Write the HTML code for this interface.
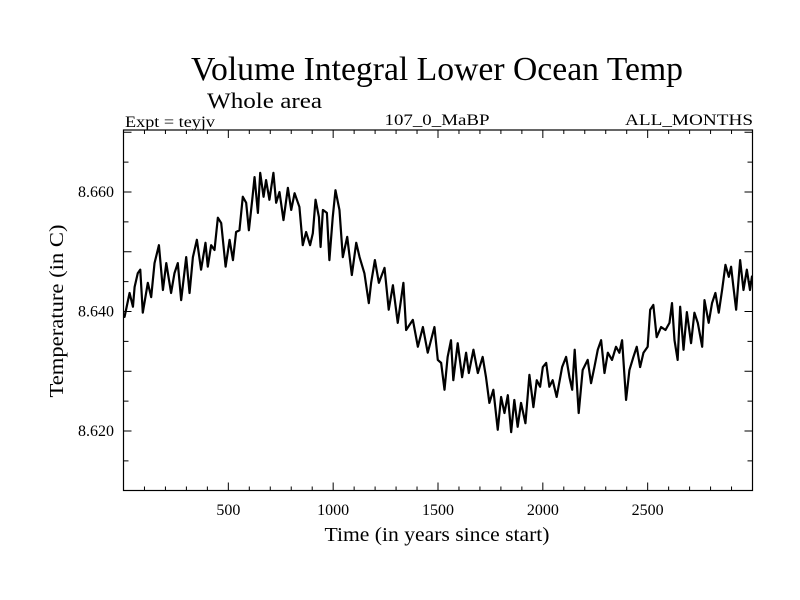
<!DOCTYPE html>
<html><head><meta charset="utf-8"><style>
html,body{margin:0;padding:0;background:#fff;}
svg{display:block;font-family:"Liberation Serif",serif;}
</style></head><body>
<svg id="chart" width="800" height="600" viewBox="0 0 800 600" xmlns="http://www.w3.org/2000/svg">
<defs><clipPath id="plotclip"><rect x="123.5" y="130" width="629" height="360.5"/></clipPath></defs>
<rect width="800" height="600" fill="#fff"/>
<text x="437" y="80" font-size="34" text-anchor="middle" textLength="492" lengthAdjust="spacingAndGlyphs">Volume Integral Lower Ocean Temp</text>
<text x="207" y="108" font-size="22" textLength="115" lengthAdjust="spacingAndGlyphs">Whole area</text>
<text x="125" y="127" font-size="16" textLength="90" lengthAdjust="spacingAndGlyphs">Expt = teyjv</text>
<text x="437" y="125" font-size="16" text-anchor="middle" textLength="105" lengthAdjust="spacingAndGlyphs">107_0_MaBP</text>
<text x="753" y="125" font-size="16" text-anchor="end" textLength="128" lengthAdjust="spacingAndGlyphs">ALL_MONTHS</text>
<g id="axes"></g>
<g id="series" clip-path="url(#plotclip)"></g>
<text x="437" y="541" font-size="20" text-anchor="middle" textLength="225" lengthAdjust="spacingAndGlyphs">Time (in years since start)</text>
<text x="0" y="0" font-size="20" text-anchor="middle" transform="translate(63,311) rotate(-90)" textLength="173" lengthAdjust="spacingAndGlyphs">Temperature (in C)</text>
</svg>
<script>
const years = [0,5,29,45,53,68,80,92,116,132,148,169,188,204,227,243,259,275,299,315,331,350,370,391,402,418,434,450,466,487,506,522,537,553,569,585,598,614,625,641,652,668,680,696,715,728,744,763,784,800,816,839,855,871,890,903,916,932,940,951,970,982,998,1011,1030,1046,1067,1089,1110,1126,1149,1170,1181,1199,1218,1245,1265,1285,1308,1335,1348,1380,1404,1428,1451,1483,1499,1515,1531,1546,1562,1573,1594,1615,1634,1647,1669,1690,1713,1729,1745,1764,1785,1801,1817,1833,1849,1864,1880,1896,1917,1936,1955,1971,1987,2000,2016,2031,2047,2066,2092,2111,2127,2140,2152,2171,2190,2214,2230,2246,2262,2278,2294,2310,2330,2349,2365,2378,2397,2413,2432,2448,2464,2480,2500,2512,2527,2543,2564,2585,2604,2616,2628,2643,2655,2671,2687,2707,2723,2739,2760,2771,2791,2807,2823,2839,2855,2871,2887,2898,2909,2922,2941,2957,2973,2988,2998];
const temps = [8.6394,8.6391,8.6431,8.6408,8.6441,8.6464,8.6470,8.6398,8.6448,8.6424,8.6481,8.6511,8.6436,8.6481,8.6431,8.6464,8.6481,8.6419,8.6491,8.6431,8.6491,8.6520,8.6470,8.6515,8.6475,8.6511,8.6503,8.6557,8.6548,8.6475,8.6520,8.6486,8.6533,8.6536,8.6592,8.6582,8.6536,8.6587,8.6625,8.6565,8.6632,8.6592,8.6620,8.6587,8.6632,8.6582,8.6600,8.6553,8.6607,8.6570,8.6598,8.6575,8.6511,8.6533,8.6511,8.6531,8.6587,8.6558,8.6508,8.6570,8.6565,8.6486,8.6558,8.6603,8.6570,8.6491,8.6525,8.6461,8.6515,8.6491,8.6464,8.6414,8.6448,8.6486,8.6448,8.6473,8.6403,8.6444,8.6381,8.6448,8.6369,8.6386,8.6341,8.6374,8.6331,8.6374,8.6319,8.6314,8.6269,8.6324,8.6352,8.6285,8.6347,8.6290,8.6331,8.6297,8.6336,8.6297,8.6324,8.6290,8.6247,8.6269,8.6202,8.6257,8.6230,8.6260,8.6198,8.6252,8.6207,8.6247,8.6213,8.6294,8.6240,8.6285,8.6274,8.6307,8.6314,8.6274,8.6285,8.6257,8.6307,8.6324,8.6290,8.6269,8.6336,8.6230,8.6302,8.6319,8.6280,8.6307,8.6336,8.6352,8.6297,8.6331,8.6319,8.6341,8.6331,8.6352,8.6252,8.6302,8.6324,8.6341,8.6307,8.6331,8.6341,8.6403,8.6411,8.6357,8.6374,8.6369,8.6381,8.6414,8.6352,8.6319,8.6408,8.6336,8.6399,8.6347,8.6398,8.6381,8.6341,8.6419,8.6381,8.6414,8.6431,8.6398,8.6436,8.6478,8.6458,8.6475,8.6441,8.6403,8.6486,8.6436,8.6470,8.6436,8.6460];
const xTickLabels = [500,1000,1500,2000,2500];
const yTickLabels = ["8.620","8.640","8.660"];

const NS = "http://www.w3.org/2000/svg";
const L = 123.5, R = 752.5, T = 130, B = 490.5;
const X0 = 0, X1 = 3000;
function xs(v){ return L + (v - X0) / (X1 - X0) * (R - L); }
function ys(v){ return 431 + (v - 8.620) / 0.040 * (192 - 431); }
function mk(tag, attrs, parent){ const e = document.createElementNS(NS, tag); for (const k in attrs) e.setAttribute(k, attrs[k]); parent.appendChild(e); return e; }

const axes = document.getElementById('axes');
const frame = mk('rect', {x:L, y:T, width:R-L, height:B-T, fill:'none', stroke:'#000', 'stroke-width':1.2}, axes);



for (let yr = 100; yr < X1; yr += 100) {
  const x = xs(yr), major = yr % 500 === 0, len = major ? 8 : 4;
  const t1 = mk('line', {x1:x, x2:x, y1:B, y2:B-len, stroke:'#000', 'stroke-width':1}, axes);
  
  
  const t2 = mk('line', {x1:x, x2:x, y1:T, y2:T+len, stroke:'#000', 'stroke-width':1}, axes);
  
  
}
xTickLabels.forEach(v => {
  const t = mk('text', {x:xs(v), y:515, 'font-size':16, 'text-anchor':'middle'}, axes);
  t.textContent = v;
  
  
});
for (let i = 0; i <= 14; i++) {
  const v = 8.610 + i * 0.005, y = ys(v);
  if (y < T + 1 || y > B - 1) continue;
  const major = i % 2 === 0, len = major ? 8 : 5;
  const t1 = mk('line', {x1:L, x2:L+len, y1:y, y2:y, stroke:'#000', 'stroke-width':1}, axes);
  
  
  const t2 = mk('line', {x1:R, x2:R-len, y1:y, y2:y, stroke:'#000', 'stroke-width':1}, axes);
  
  
}
yTickLabels.forEach(s => {
  const t = mk('text', {x:114, y:ys(parseFloat(s))+5, 'font-size':16, 'text-anchor':'end'}, axes);
  t.textContent = s;
  
  
});

const series = document.getElementById('series');
let d = '';
years.forEach((yr, i) => { d += (i ? 'L' : 'M') + xs(yr).toFixed(2) + ',' + ys(temps[i]).toFixed(2); });
const line = mk('path', {d:d, fill:'none', stroke:'#000', 'stroke-width':2.2, 'stroke-linejoin':'round'}, series);


</script>
</body></html>
